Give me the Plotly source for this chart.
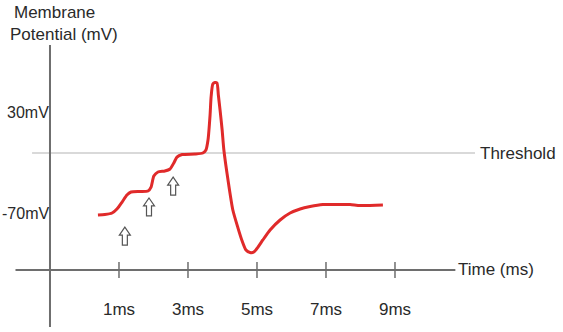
import plotly.graph_objects as go

# ---- data (time in ms, membrane potential in mV) ----
time_ms = [0.39, 0.59, 0.80, 0.94, 1.09, 1.23, 1.35, 1.61, 1.84, 1.93, 2.01, 2.13, 2.33,
           2.48, 2.59, 2.68, 2.83, 3.20, 3.43, 3.52, 3.58, 3.64, 3.67, 3.72, 3.78, 3.84,
           3.88, 3.93, 3.99, 4.04, 4.16, 4.30, 4.45, 4.57, 4.68, 4.80, 4.91, 5.03, 5.17,
           5.38, 5.67, 5.96, 6.25, 6.54, 6.91, 7.41, 7.70, 7.99, 8.65]
potential_mv = [-72.0, -71.5, -70.0, -66.0, -59.1, -52.1, -49.2, -48.7, -48.2, -44.3, -33.4,
                -29.4, -28.4, -26.4, -20.4, -14.6, -12.1, -11.6, -10.6, -7.6, 2.3, 27.0,
                44.9, 57.7, 59.2, 58.7, 46.8, 31.9, 12.2, -7.6, -37.3, -67.0, -84.9, -97.7,
                -106.6, -109.1, -108.6, -103.7, -96.7, -86.8, -76.9, -70.0, -66.0, -63.6,
                -61.6, -61.6, -61.6, -62.6, -62.1]
threshold_mv = -10.6
stimulus_ms = [1.17, 1.87, 2.57]
stimulus_tip_mv = [-83.9, -55.1, -34.4]
x_ticks = [1, 3, 5, 7, 9]
x_tick_labels = ["1ms", "3ms", "5ms", "7ms", "9ms"]
y_ticks = [30, -70]
y_tick_labels = ["30mV", "-70mV"]

# ---- layout constants ----
X_RANGE = [-2.449, 13.870]
Y_RANGE = [-187.8, 140.9]
AXIS_X = -1.0        # y-axis position (ms)
AXIS_Y = -126.4      # x-axis position (mV)
FONT = "Liberation Sans, Arial, sans-serif"
FS = 17
TXT = "#2a2a2a"
AX = "#6e6e6e"

fig = go.Figure()
fig.add_trace(go.Scatter(x=time_ms, y=potential_mv, mode="lines",
                         line=dict(color="#e02a2a", width=3, shape="spline", smoothing=0.6),
                         hoverinfo="skip", showlegend=False))

shapes = []
# threshold line
shapes.append(dict(type="line", x0=-1.52, x1=11.32, y0=threshold_mv, y1=threshold_mv,
                   line=dict(color="#cdcdcd", width=1.5), layer="below"))
# axes
shapes.append(dict(type="line", x0=-2.0, x1=10.75, y0=AXIS_Y, y1=AXIS_Y,
                   line=dict(color=AX, width=2)))
shapes.append(dict(type="line", x0=AXIS_X, x1=AXIS_X, y0=-182.9, y1=96.3,
                   line=dict(color=AX, width=2)))
# ticks
for t in x_ticks:
    shapes.append(dict(type="line", x0=t, x1=t, y0=-118.5, y1=-134.4,
                       line=dict(color=AX, width=1.5)))
# stimulus arrows (hollow block arrows, pixel sized)
arrow_path = "M 0,0 L 5.5,-8 L 2.5,-8 L 2.5,-18 L -2.5,-18 L -2.5,-8 L -5.5,-8 Z"
for sx, sy in zip(stimulus_ms, stimulus_tip_mv):
    shapes.append(dict(type="path", xsizemode="pixel", ysizemode="pixel",
                       xanchor=sx, yanchor=sy, path=arrow_path,
                       line=dict(color="#555555", width=1.2), fillcolor="white"))

ann = []
for t, lab in zip(x_ticks, x_tick_labels):
    ann.append(dict(x=t, y=-165.5, text=lab, showarrow=False, xanchor="center",
                    yanchor="middle", font=dict(size=FS, color=TXT, family=FONT)))
for v, lab in zip(y_ticks, y_tick_labels):
    ann.append(dict(x=AXIS_X + 0.02, y=v, text=lab, showarrow=False, xanchor="right",
                    yanchor="middle", font=dict(size=16, color=TXT, family=FONT)))
ann.append(dict(x=10.78, y=AXIS_Y, text="Time (ms)", showarrow=False, xanchor="left",
                yanchor="middle", font=dict(size=FS, color=TXT, family=FONT)))
ann.append(dict(x=11.40, y=threshold_mv, text="Threshold", showarrow=False, xanchor="left",
                yanchor="middle", font=dict(size=FS, color=TXT, family=FONT)))
ann.append(dict(x=-0.87, y=128.8, text="Membrane", showarrow=False, xanchor="center",
                yanchor="middle", font=dict(size=FS, color=TXT, family=FONT)))
ann.append(dict(x=-0.59, y=107.0, text="Potential (mV)", showarrow=False, xanchor="center",
                yanchor="middle", font=dict(size=FS, color=TXT, family=FONT)))

fig.update_layout(
    width=563, height=332,
    margin=dict(l=0, r=0, t=0, b=0),
    paper_bgcolor="white", plot_bgcolor="white",
    xaxis=dict(range=X_RANGE, visible=False, fixedrange=True),
    yaxis=dict(range=Y_RANGE, visible=False, fixedrange=True),
    shapes=shapes, annotations=ann,
)
fig.write_html("out.html")
